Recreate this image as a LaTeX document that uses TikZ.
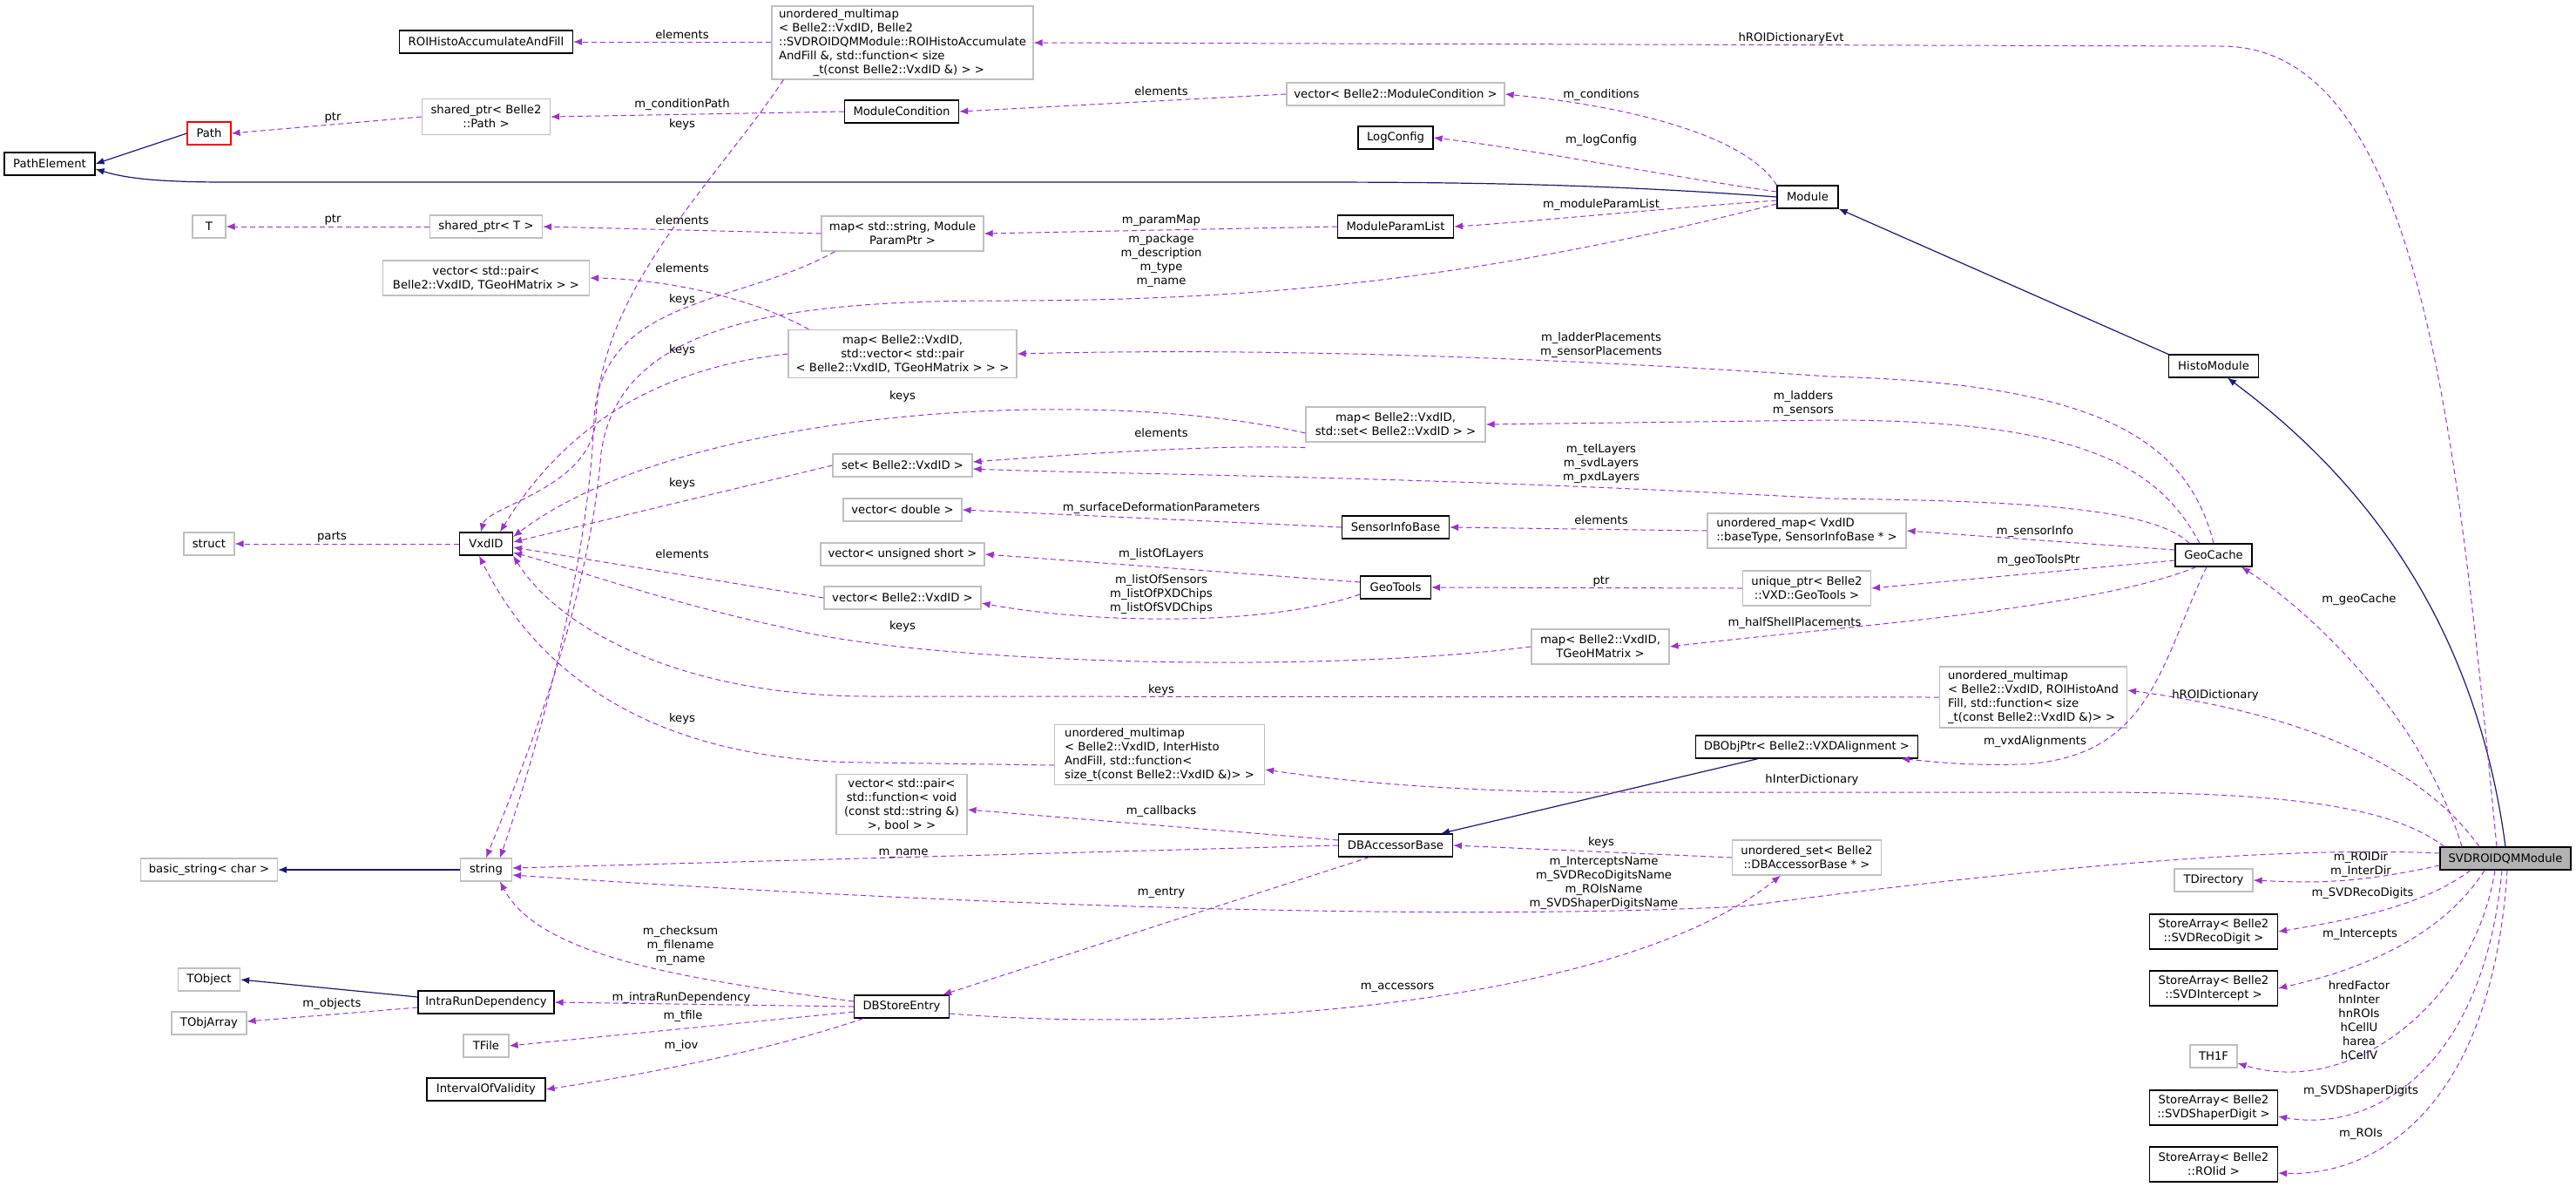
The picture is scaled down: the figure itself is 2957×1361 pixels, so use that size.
\documentclass[tikz,border=0pt]{standalone}
\usepackage{fontspec}
\setmainfont{DejaVu Sans}
\usetikzlibrary{arrows.meta}
\definecolor{dep}{HTML}{9A32CD}
\definecolor{inh}{HTML}{191970}
\newcommand\bx[7]{\node[#1,minimum width=#5pt,minimum height=#6pt] (#2) at (#3,#4) {#7};}
\begin{document}
\begin{tikzpicture}[x=0.5pt,y=-0.5pt,
  every node/.style={font=\fontsize{6.6}{8}\selectfont},
  cb/.style={draw=black,fill=white,inner sep=1pt,align=center,line width=0.6pt},
  cg/.style={draw=black!25,fill=white,inner sep=1pt,align=center,line width=0.6pt},
  cl/.style={cg,align=left},
  lbl/.style={align=center,inner sep=0pt},
  dp/.style={draw=dep,dash pattern=on 3pt off 2pt,line width=0.5pt,-{Latex[length=5pt,width=4pt]}},
  ih/.style={draw=inh,line width=0.6pt,-{Latex[length=5pt,width=4pt]}}]
\useasboundingbox (0,0) rectangle (2957,1361);
% ---------- nodes
\bx{cb}{ROIHisto}{558}{48}{99.5}{13}{ROIHistoAccumulateAndFill}
\bx{cl}{UMMtop}{1036}{49}{150}{42}{unordered\_multimap\\< Belle2::VxdID, Belle2\\::SVDROIDQMModule::ROIHistoAccumulate\\AndFill \&, std::function< size\\\hspace{3em}\_t(const Belle2::VxdID \&) > >}
\bx{cg}{SPPath}{558}{134}{73.5}{20.5}{shared\_ptr< Belle2\\::Path >}
\bx{cb,draw=red}{Path}{240}{153}{25}{13}{Path}
\bx{cb}{PathElement}{57}{188}{52}{13}{PathElement}
\bx{cb}{ModuleCondition}{1035}{128}{65.5}{13}{ModuleCondition}
\bx{cg}{T}{240}{260}{19}{13}{T}
\bx{cg}{SPT}{558}{260}{64.5}{13}{shared\_ptr< T >}
\bx{cg}{mapParam}{1036}{268}{93}{20}{map< std::string, Module\\ParamPtr >}
\bx{cg}{vecPairVxd}{558}{319}{118.5}{20}{vector< std::pair<\\ Belle2::VxdID, TGeoHMatrix > >}
\bx{cg}{mapVxdVec}{1036}{406}{131}{27.5}{map< Belle2::VxdID,\\ std::vector< std::pair\\< Belle2::VxdID, TGeoHMatrix > > >}
\bx{cg}{vecModCond}{1602}{108}{125}{13}{vector< Belle2::ModuleCondition >}
\bx{cb}{LogConfig}{1602}{158}{43}{13}{LogConfig}
\bx{cb}{Module}{2075}{226}{35}{13}{Module}
\bx{cb}{ModuleParamList}{1602}{260}{66.5}{13}{ModuleParamList}
\bx{cg}{struct}{240}{624}{29}{13}{struct}
\bx{cb}{VxdID}{558}{624}{30.5}{13}{VxdID}
\bx{cg}{setVxd}{1036}{534}{80}{13}{set< Belle2::VxdID >}
\bx{cg}{vecDouble}{1036}{585}{68}{13}{vector< double >}
\bx{cg}{vecUShort}{1036}{636}{94}{13}{vector< unsigned short >}
\bx{cg}{vecVxd}{1036}{686}{90}{13}{vector< Belle2::VxdID >}
\bx{cg}{mapVxdSet}{1602}{487}{103}{20}{map< Belle2::VxdID,\\ std::set< Belle2::VxdID > >}
\bx{cb}{SensorInfoBase}{1602}{605}{61.5}{13}{SensorInfoBase}
\bx{cb}{GeoTools}{1602}{674}{40.5}{13}{GeoTools}
\bx{cl}{UMapSensor}{2074}{609}{114}{20}{unordered\_map< VxdID\\::baseType, SensorInfoBase * >}
\bx{cg}{UPtrGeoTools}{2074}{675}{73.5}{20}{unique\_ptr< Belle2\\::VXD::GeoTools >}
\bx{cg}{mapVxdTGeo}{1837}{742}{79}{20}{map< Belle2::VxdID,\\ TGeoHMatrix >}
\bx{cb}{GeoCache}{2541}{637}{44}{13}{GeoCache}
\bx{cb}{HistoModule}{2541}{420}{51.5}{13}{HistoModule}
\bx{cl}{UMMInter}{1331}{866}{120.5}{34.5}{unordered\_multimap\\< Belle2::VxdID, InterHisto\\AndFill, std::function<\\ size\_t(const Belle2::VxdID \&)> >}
\bx{cb}{DBObjPtr}{2074}{857}{127.5}{13}{DBObjPtr< Belle2::VXDAlignment >}
\bx{cl}{UMMhROI}{2334}{800}{107.5}{35}{unordered\_multimap\\< Belle2::VxdID, ROIHistoAnd\\Fill, std::function< size\\\_t(const Belle2::VxdID \&)> >}
\bx{cg}{vecPairFunc}{1035}{923}{75}{34.5}{vector< std::pair<\\ std::function< void\\(const std::string \&)\\>, bool > >}
\bx{cg}{basicstring}{240}{998}{78.5}{13}{basic\_string< char >}
\bx{cg}{string}{558}{998}{29.5}{13}{string}
\bx{cb}{DBAccessorBase}{1602}{970}{65.5}{13}{DBAccessorBase}
\bx{cg}{UsetDB}{2074}{984}{85.5}{20}{unordered\_set< Belle2\\::DBAccessorBase * >}
\bx{cb,fill=black!30}{SVDROIDQM}{2876}{985}{75}{13}{SVDROIDQMModule}
\bx{cg}{TDirectory}{2541}{1010}{45}{13}{TDirectory}
\bx{cb}{SARec}{2541}{1069}{73.5}{20}{StoreArray< Belle2\\::SVDRecoDigit >}
\bx{cb}{SAInt}{2541}{1134}{73.5}{20}{StoreArray< Belle2\\::SVDIntercept >}
\bx{cg}{TH1F}{2541}{1212}{27}{13}{TH1F}
\bx{cb}{SAShaper}{2541}{1271}{73.5}{20}{StoreArray< Belle2\\::SVDShaperDigit >}
\bx{cb}{SAROI}{2541}{1336}{73.5}{20}{StoreArray< Belle2\\::ROIid >}
\bx{cg}{TObject}{240}{1124}{35.5}{13}{TObject}
\bx{cg}{TObjArray}{240}{1174}{43}{13}{TObjArray}
\bx{cb}{IntraRun}{558}{1150}{78}{13}{IntraRunDependency}
\bx{cb}{DBStoreEntry}{1035}{1155}{54.5}{13}{DBStoreEntry}
\bx{cg}{TFile}{558}{1200}{26}{13}{TFile}
\bx{cb}{IoV}{558}{1250}{68}{13}{IntervalOfValidity}
% ---------- inheritance
\draw[ih] (Path.west) -- (PathElement.east);
\draw[ih] (Module.west) .. controls (1850,212) and (1700,209) .. (1500,209) -- (260,209) .. controls (170,209) and (140,203) .. ([yshift=-3pt]PathElement.east);
\draw[ih] (HistoModule.north west) -- (Module.south east);
\draw[ih] (SVDROIDQM.north) .. controls (2840,700) and (2700,540) .. ([xshift=8pt]HistoModule.south);
\draw[ih] ([xshift=-28pt]DBObjPtr.south) -- ([xshift=26pt]DBAccessorBase.north);
\draw[ih] (string.west) -- (basicstring.east);
\draw[ih] ([yshift=3pt]IntraRun.west) -- (TObject.east);
% ---------- dependencies
\draw[dp] (UMMtop.west |- ROIHisto.east) -- (ROIHisto.east);
\draw[dp] ([xshift=7pt]UMMtop.south west) .. controls (820,210) and (690,330) .. (684,480) .. controls (680,560) and (560,580) .. ([xshift=-3pt]VxdID.north);
\draw[dp] (SPPath.west) -- (Path.east);
\draw[dp] (ModuleCondition.west) -- (SPPath.east);
\draw[dp] (vecModCond.west) -- (ModuleCondition.east);
\draw[dp] (Module.north west) .. controls (2000,150) and (1850,120) .. (vecModCond.east);
\draw[dp] ([yshift=3pt]Module.west) .. controls (1900,200) and (1750,170) .. (LogConfig.east);
\draw[dp] ([yshift=-2pt]Module.west) .. controls (1900,240) and (1750,255) .. (ModuleParamList.east);
\draw[dp] (ModuleParamList.west) -- (mapParam.east);
\draw[dp] (mapParam.west) -- (SPT.east);
\draw[dp] (SPT.west) -- (T.east);
\draw[dp] ([xshift=8pt]mapParam.south west) .. controls (850,350) and (690,340) .. (682,480) .. controls (675,650) and (620,850) .. ([xshift=8pt]string.north);
\draw[dp] ([yshift=-4pt]Module.west) .. controls (1700,320) and (1450,345) .. (1150,345) .. controls (900,345) and (710,370) .. (690,520) .. controls (675,700) and (600,880) .. (string.north);
\draw[dp] ([xshift=12pt]mapVxdVec.north west) .. controls (860,340) and (760,320) .. (vecPairVxd.east);
\draw[dp] (mapVxdVec.west) .. controls (780,420) and (660,470) .. ([xshift=8pt]VxdID.north);
\draw[dp] (GeoCache.north) .. controls (2510,500) and (2400,440) .. (2100,432) .. controls (1700,405) and (1400,400) .. (mapVxdVec.east);
\draw[dp] ([yshift=-5pt]mapVxdSet.west) .. controls (1250,440) and (780,470) .. ([yshift=4pt]VxdID.east);
\draw[dp] ([yshift=-3pt]mapVxdSet.south west) .. controls (1400,510) and (1250,520) .. ([yshift=2pt]setVxd.east);
\draw[dp] ([xshift=-8pt]GeoCache.north) .. controls (2480,540) and (2400,482) .. (2100,482) -- (mapVxdSet.east);
\draw[dp] ([xshift=-14pt]GeoCache.north) .. controls (2470,580) and (2300,575) .. (2100,572) .. controls (1600,545) and (1300,545) .. ([yshift=-2pt]setVxd.east);
\draw[dp] (setVxd.west) -- ([yshift=1pt]VxdID.east);
\draw[dp] (SensorInfoBase.west) -- (vecDouble.east);
\draw[dp] (UMapSensor.west) -- (SensorInfoBase.east);
\draw[dp] ([yshift=3pt]GeoCache.west) -- (UMapSensor.east);
\draw[dp] ([yshift=3pt]GeoTools.west) -- (vecUShort.east);
\draw[dp] ([yshift=-4pt]GeoTools.west) .. controls (1450,720) and (1250,715) .. ([yshift=-3pt]vecVxd.east);
\draw[dp] (vecVxd.west) -- ([yshift=-2pt]VxdID.east);
\draw[dp] (UPtrGeoTools.west) -- (GeoTools.east);
\draw[dp] ([yshift=-3pt]GeoCache.west) -- (UPtrGeoTools.east);
\draw[dp] (mapVxdTGeo.west) .. controls (1500,775) and (1050,760) .. (900,720) .. controls (760,690) and (650,650) .. ([yshift=-5pt]VxdID.east);
\draw[dp] ([xshift=-10pt]GeoCache.south) .. controls (2400,700) and (2100,720) .. (mapVxdTGeo.east);
\draw[dp] (UMMhROI.west) -- (1000,799) .. controls (780,799) and (640,720) .. (VxdID.south east);
\draw[dp] ([yshift=-6pt]UMMInter.west) -- (1000,875) .. controls (760,875) and (620,780) .. ([xshift=-4pt]VxdID.south);
\draw[dp] (VxdID.west) -- (struct.east);
\draw[dp] ([xshift=-4pt]GeoCache.south) .. controls (2480,760) and (2470,870) .. (2320,877) .. controls (2260,879) and (2220,874) .. ([xshift=-10pt]DBObjPtr.south east);
\draw[dp] ([xshift=-25pt]SVDROIDQM.north) .. controls (2780,820) and (2650,700) .. ([xshift=16pt]GeoCache.south);
\draw[dp] ([xshift=-15pt]SVDROIDQM.north) .. controls (2780,880) and (2650,820) .. ([yshift=4pt]UMMhROI.east);
\draw[dp] ([xshift=-5pt]SVDROIDQM.north) .. controls (2820,500) and (2780,53) .. (2550,53) -- (UMMtop.east);
\draw[dp] ([xshift=-35pt]SVDROIDQM.north) .. controls (2750,930) and (2650,909) .. (2400,909) -- (1800,909) .. controls (1600,905) and (1500,890) .. ([yshift=-8.5pt]UMMInter.east);
\draw[dp] ([yshift=3pt]SVDROIDQM.west) .. controls (2600,970) and (2300,1000) .. (2000,1040) .. controls (1700,1055) and (1200,1045) .. ([yshift=-3pt]string.east);
\draw[dp] ([yshift=3pt]DBAccessorBase.west) -- ([yshift=-3pt]vecPairFunc.east);
\draw[dp] (DBAccessorBase.west) -- ([yshift=1pt]string.east);
\draw[dp] ([xshift=-15pt]DBAccessorBase.south) -- ([xshift=-4pt]DBStoreEntry.north east);
\draw[dp] (UsetDB.west) -- (DBAccessorBase.east);
\draw[dp] ([yshift=-4pt]DBStoreEntry.east) .. controls (1350,1185) and (1850,1160) .. ([xshift=-15pt]UsetDB.south);
\draw[dp] ([yshift=3pt]DBStoreEntry.west) .. controls (800,1125) and (620,1100) .. ([xshift=8pt]string.south);
\draw[dp] ([yshift=-3pt]IntraRun.west) -- ([yshift=1pt]TObjArray.east);
\draw[dp] (DBStoreEntry.west) -- (IntraRun.east);
\draw[dp] ([yshift=-3pt]DBStoreEntry.west) -- (TFile.east);
\draw[dp] ([xshift=-22pt]DBStoreEntry.south) .. controls (900,1200) and (760,1230) .. (IoV.east);
\draw[dp] ([yshift=-4pt]SVDROIDQM.west) .. controls (2700,1015) and (2650,1013) .. (TDirectory.east);
\draw[dp] ([xshift=-20pt]SVDROIDQM.south) .. controls (2780,1040) and (2700,1055) .. (SARec.east);
\draw[dp] ([xshift=-12pt]SVDROIDQM.south) .. controls (2800,1080) and (2700,1115) .. (SAInt.east);
\draw[dp] ([xshift=-6pt]SVDROIDQM.south) .. controls (2840,1150) and (2700,1260) .. ([yshift=-4pt]TH1F.east);
\draw[dp] ([xshift=-2pt]SVDROIDQM.south) .. controls (2850,1230) and (2720,1300) .. ([yshift=-5pt]SAShaper.east);
\draw[dp] ([xshift=1pt]SVDROIDQM.south) .. controls (2860,1280) and (2720,1350) .. ([yshift=-5pt]SAROI.east);
% ---------- labels
\node[lbl] at (783,40) {elements};
\node[lbl] at (382,135) {ptr};
\node[lbl] at (783,120) {m\_conditionPath};
\node[lbl] at (783,143) {keys};
\node[lbl] at (1333,105) {elements};
\node[lbl] at (1838,109) {m\_conditions};
\node[lbl] at (1838,161) {m\_logConfig};
\node[lbl] at (1838,235) {m\_moduleParamList};
\node[lbl] at (1333,253) {m\_paramMap};
\node[lbl] at (1333,299) {m\_package\\m\_description\\m\_type\\m\_name};
\node[lbl] at (783,253) {elements};
\node[lbl] at (382,252) {ptr};
\node[lbl] at (783,308) {elements};
\node[lbl] at (783,344) {keys};
\node[lbl] at (783,402) {keys};
\node[lbl] at (1838,396) {m\_ladderPlacements\\m\_sensorPlacements};
\node[lbl] at (2070,463) {m\_ladders\\m\_sensors};
\node[lbl] at (1036,455) {keys};
\node[lbl] at (1333,497) {elements};
\node[lbl] at (1838,532) {m\_telLayers\\m\_svdLayers\\m\_pxdLayers};
\node[lbl] at (783,555) {keys};
\node[lbl] at (1333,583) {m\_surfaceDeformationParameters};
\node[lbl] at (1838,597) {elements};
\node[lbl] at (2336,610) {m\_sensorInfo};
\node[lbl] at (381,616) {parts};
\node[lbl] at (783,636) {elements};
\node[lbl] at (1333,636) {m\_listOfLayers};
\node[lbl] at (1333,682) {m\_listOfSensors\\m\_listOfPXDChips\\m\_listOfSVDChips};
\node[lbl] at (1838,667) {ptr};
\node[lbl] at (2340,643) {m\_geoToolsPtr};
\node[lbl] at (2708,688) {m\_geoCache};
\node[lbl] at (2060,715) {m\_halfShellPlacements};
\node[lbl] at (1036,719) {keys};
\node[lbl] at (1333,792) {keys};
\node[lbl] at (2543,798) {hROIDictionary};
\node[lbl] at (783,825) {keys};
\node[lbl] at (2336,851) {m\_vxdAlignments};
\node[lbl] at (2080,895) {hInterDictionary};
\node[lbl] at (2056,44) {hROIDictionaryEvt};
\node[lbl] at (1333,931) {m\_callbacks};
\node[lbl] at (1838,967) {keys};
\node[lbl] at (1037,979) {m\_name};
\node[lbl] at (1841,1013) {m\_InterceptsName\\m\_SVDRecoDigitsName\\m\_ROIsName\\m\_SVDShaperDigitsName};
\node[lbl] at (1333,1024) {m\_entry};
\node[lbl] at (781,1085) {m\_checksum\\m\_filename\\m\_name};
\node[lbl] at (1604,1133) {m\_accessors};
\node[lbl] at (381,1152) {m\_objects};
\node[lbl] at (782,1145) {m\_intraRunDependency};
\node[lbl] at (784,1166) {m\_tfile};
\node[lbl] at (782,1200) {m\_iov};
\node[lbl] at (2710,992) {m\_ROIDir\\m\_InterDir};
\node[lbl] at (2712,1025) {m\_SVDRecoDigits};
\node[lbl] at (2709,1072) {m\_Intercepts};
\node[lbl] at (2708,1171) {hredFactor\\hnInter\\hnROIs\\hCellU\\harea\\hCellV};
\node[lbl] at (2710,1252) {m\_SVDShaperDigits};
\node[lbl] at (2710,1301) {m\_ROIs};
\end{tikzpicture}
\end{document}
